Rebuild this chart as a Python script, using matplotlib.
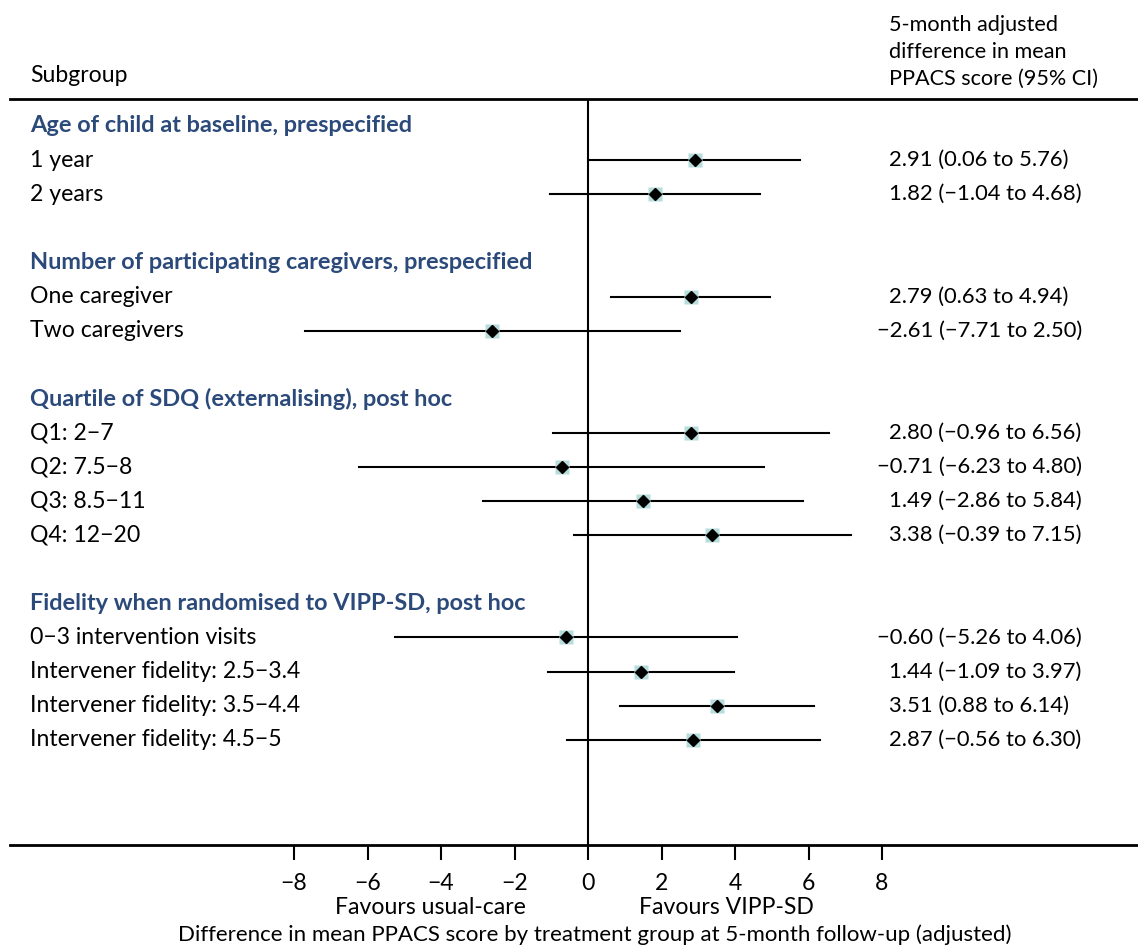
import matplotlib
matplotlib.use('Agg')
import matplotlib.pyplot as plt
import matplotlib.transforms as mtrans

plt.rcParams['font.family'] = ['Lato', 'DejaVu Sans']

# ---- data ----
headings = ['Age of child at baseline, prespecified',
            'Number of participating caregivers, prespecified',
            'Quartile of SDQ (externalising), post hoc',
            'Fidelity when randomised to VIPP-SD, post hoc']
heading_rows = [0, 4, 8, 14]

labels = ['1 year', '2 years',
          'One caregiver', 'Two caregivers',
          'Q1: 2\u22127', 'Q2: 7.5\u22128', 'Q3: 8.5\u221211', 'Q4: 12\u221220',
          '0\u22123 intervention visits', 'Intervener fidelity: 2.5\u22123.4',
          'Intervener fidelity: 3.5\u22124.4', 'Intervener fidelity: 4.5\u22125']
rows = [1, 2, 5, 6, 9, 10, 11, 12, 15, 16, 17, 18]
est = [2.91, 1.82, 2.79, -2.61, 2.80, -0.71, 1.49, 3.38, -0.60, 1.44, 3.51, 2.87]
lo = [0.06, -1.04, 0.63, -7.71, -0.96, -6.23, -2.86, -0.39, -5.26, -1.09, 0.88, -0.56]
hi = [5.76, 4.68, 4.94, 2.50, 6.56, 4.80, 5.84, 7.15, 4.06, 3.97, 6.14, 6.30]
ticks = [-8, -6, -4, -2, 0, 2, 4, 6, 8]
header_lines = ['5-month adjusted', 'difference in mean', 'PPACS score (95% CI)']

def fmt(v):
    s = '%.2f' % abs(v)
    return ('\u2212' + s) if v < 0 else s

W, H = 1138, 950
FS = 16.6
fig = plt.figure(figsize=(W / 100, H / 100), dpi=100)
# axes spans px 10..1138 horizontally, 99..845 vertically
ax = fig.add_axes([10 / W, (H - 845) / H, 1128 / W, (845 - 99) / H])

ppu = 36.75  # px per unit
ax.set_xlim((10 - 588) / ppu, (1138 - 588) / ppu)
step = 34.1
ax.set_ylim((845 - 126) / step, (99 - 126) / step)

for s in ['left', 'right']:
    ax.spines[s].set_visible(False)
for s in ['top', 'bottom']:
    ax.spines[s].set_linewidth(2)
ax.set_yticks([])
ax.set_xticks(ticks)
ax.set_xticklabels([fmt(t).replace('.00', '') for t in ticks], fontsize=FS)
ax.tick_params(axis='x', length=11, width=1.5, pad=9)

ax.axvline(0, color='black', lw=1.5)

blue = '#2b4a7a'
tr = mtrans.blended_transform_factory(fig.transFigure, ax.transData)
xl = 30 / W
xr = 889 / W
minus_w = 12 / W  # leading minus hangs left of the digit column
for h, r in zip(headings, heading_rows):
    ax.text(xl, r, h, transform=tr, fontsize=FS + 0.3, fontweight='bold',
            color=blue, va='center', ha='left')

for lab, r, e, l, u in zip(labels, rows, est, lo, hi):
    ax.text(xl, r, lab, transform=tr, fontsize=FS, va='center', ha='left')
    ax.plot([l, u], [r, r], color='black', lw=1.5, zorder=2)
    ax.plot(e, r, marker='s', ms=10, color='#b6dcdc', mec='none', zorder=3)
    ax.plot(e, r, marker='D', ms=6.5, color='black', zorder=4)
    x0 = xr - minus_w if e < 0 else xr
    ax.text(x0, r, '%s (%s to %s)' % (fmt(e), fmt(l), fmt(u)), transform=tr,
            fontsize=FS - 0.8, va='center', ha='left')

fig.text(30 / W, 1 - 76 / H, 'Subgroup', fontsize=FS, va='center', ha='left')
for txt, yy in zip(header_lines, [25, 52, 79]):
    fig.text(xr, 1 - yy / H, txt, fontsize=FS - 1, va='center', ha='left')

trb = mtrans.blended_transform_factory(ax.transData, fig.transFigure)
ax.text(-4.3, 1 - 908 / H, 'Favours usual-care', transform=trb, fontsize=FS,
        ha='center', va='center')
ax.text(3.78, 1 - 908 / H, 'Favours VIPP-SD', transform=trb, fontsize=FS,
        ha='center', va='center')
fig.text(595 / W, 1 - 935 / H,
         'Difference in mean PPACS score by treatment group at 5-month follow-up (adjusted)',
         fontsize=16, ha='center', va='center')

fig.savefig('out.png', dpi=100)
